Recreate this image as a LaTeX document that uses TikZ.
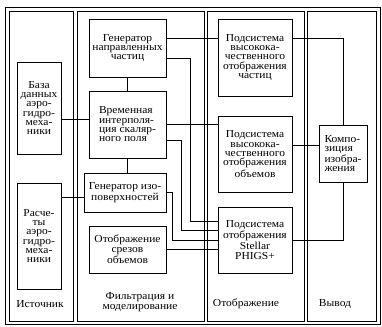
\documentclass[tikz,border=0pt]{standalone}
\usepackage{fontspec}
\setmainfont[FakeStretch=1.08]{Liberation Serif}
\tikzset{
  blok/.style={draw, line width=0.6pt, inner sep=0pt, align=center,
    font=\fontsize{8}{7}\selectfont},
  link/.style={line width=0.6pt},
  ramka/.style={line width=0.6pt},
  podpis/.style={align=center, font=\fontsize{8}{7.5}\selectfont}
}
\begin{document}
\begin{tikzpicture}[x=0.75pt, y=-0.75pt]
                \useasboundingbox (0,0) rectangle (382,327);
                % Draw the outer frame and the four columns inside it
                \draw[ramka] (5,7) rectangle (380,324);
                \foreach \xa/\xb in {9/73, 77/204, 207/304, 307/376} {
                \draw[ramka] (\xa,11) rectangle (\xb,321);
                }

                % Sources
                \node[blok, minimum width=33pt, minimum height=69pt] (baza) at (39,108)
                  {База\\данных\\аэро-\\гидро-\\меха-\\ники};
                \node[blok, minimum width=33pt, minimum height=79.5pt] (raschety) at (39,236)
                  {Расче-\\ты\\аэро-\\гидро-\\меха-\\ники};

                % Filtering and modelling
                \node[blok, minimum width=57.75pt, minimum height=43.5pt] (gennapr) at (127.5,48)
                  {Генератор\\направленных\\частиц};
                \node[blok, align=left, minimum width=57.75pt, minimum height=50.25pt] (vremen) at (127.5,124.5)
                  {Временная\\интерполя-\\ция скаляр-\\ного поля};
                \node[blok, minimum width=61.5pt, minimum height=29.25pt] (geniso) at (125,192.5)
                  {Генератор изо-\\поверхностей};
                \node[blok, minimum width=57.75pt, minimum height=35.25pt] (srezy) at (127.5,249.5)
                  {Отображение\\срезов\\объемов};

                % Display
                \node[blok, minimum width=55.5pt, minimum height=57.75pt] (podchast) at (255,57.5)
                  {Подсистема\\высокока-\\чественного\\отображения\\частиц};
                \node[blok, minimum width=55.5pt, minimum height=57pt] (podob) at (255,154)
                  {Подсистема\\высокока-\\чественного\\отображения\\объемов};
                \node[blok, minimum width=55.5pt, minimum height=49.5pt] (stellar) at (255,240)
                  {Подсистема\\отображения\\Stellar\\PHIGS+};

                % Output
                \node[blok, align=left, minimum width=36pt, minimum height=42.75pt] (kompoz) at (343,153.5)
                  {Компо-\\зиция\\изобра-\\жения};

                % Column titles
                \node[podpis] (ist) at (40,304) {Источник};
                \node[podpis] (filtr) at (140,302) {Фильтрация и\\моделирование};
                \node[podpis] (otobr) at (246,304) {Отображение};
                \node[podpis] (vyvod) at (335,304) {Вывод};

                % Draw the links between the blocks
                \draw[link] ([yshift=4pt]vremen.west) -- ([yshift=4pt]vremen.west -| baza.east);
                \draw[link] ([yshift=-3.4pt]geniso.west) -- ([yshift=-3.4pt]geniso.west -| raschety.east);
                \draw[link] (gennapr.south) -- (vremen.north);
                \draw[link] (vremen.south) -- (vremen.south |- geniso.north);
                \draw[link] ([yshift=7.5pt]gennapr.east) -- ([yshift=7.5pt]gennapr.east -| podchast.west);
                \draw[link] ([yshift=-7.5pt]gennapr.east) -- ++(24,0) |- ([yshift=14.25pt]stellar.west);
                \draw[link] (vremen.east) -- (vremen.east -| podob.west);
                \draw[link] ([yshift=-11.6pt]vremen.east) -- ++(15,0) |- ([yshift=7.5pt]stellar.west);
                \draw[link] (geniso.east) -- ++(6,0) |- (stellar.west);
                \draw[link] (srezy.east) -- (srezy.east -| stellar.west);
                \draw[link] ([yshift=14.6pt]podchast.east) -| (kompoz.north);
                \draw[link] ([yshift=6.75pt]podob.east) -- ([yshift=6.75pt]podob.east -| kompoz.west);
                \draw[link] (stellar.east) -| (kompoz.south);

            \end{tikzpicture}
\end{document}
